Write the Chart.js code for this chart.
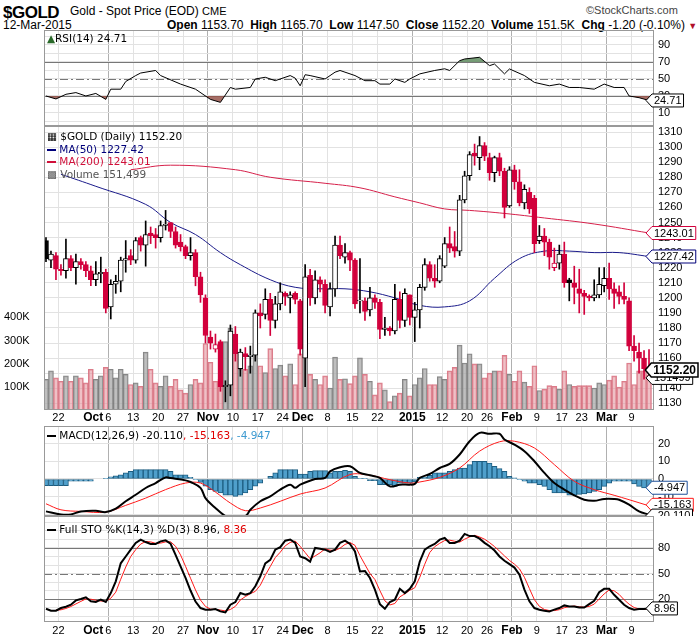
<!DOCTYPE html>
<html>
<head>
<meta charset="utf-8">
<script src="https://cdn.jsdelivr.net/npm/chart.js@4.4.1/dist/chart.umd.min.js"></script>
<style>
  body { margin: 0; background: #fff; width: 700px; height: 639px; overflow: hidden; position: relative;
         font-family: "Liberation Sans", Arial, sans-serif; }
  canvas { position: absolute; left: 0; }
  .t { position: absolute; white-space: nowrap; font-size: 11px; color: #000; line-height: 1.15; }
  .n { font-family: "Liberation Sans Narrow", "Liberation Sans", Arial, sans-serif; }
  .v { font-family: "DejaVu Sans", Verdana, sans-serif; font-size: 10.5px; }
  b { font-weight: bold; }
</style>
</head>
<body>
<div class="t n" style="left:3px;top:3px;font-size:17px;font-weight:bold;letter-spacing:-0.5px">$GOLD</div>
<div class="t n" style="left:70px;top:5px;font-size:12px">Gold - Spot Price (EOD) <span style="font-size:11px">CME</span></div>
<div class="t n" style="left:586px;top:4px;font-size:11px;color:#444">&copy;StockCharts.com</div>
<div class="t n" style="left:3px;top:19px;font-size:12px">12-Mar-2015</div>
<div class="t n" style="left:167px;top:19px;font-size:12px"><b>Open</b> 1153.70 &nbsp;<b>High</b> 1165.70 &nbsp;<b>Low</b> 1147.50 &nbsp;<b>Close</b> 1152.20 &nbsp;<b>Volume</b> 151.5K &nbsp;<b>Chg</b> -1.20 (-0.10%) <span style="color:#b0102a;font-size:9px">&#9660;</span></div>

<canvas id="rsi" width="700" height="96" style="top:30px"></canvas>
<canvas id="price" width="700" height="300" style="top:126px"></canvas>
<canvas id="macd" width="700" height="90" style="top:426px"></canvas>
<canvas id="sto" width="700" height="123" style="top:516px"></canvas>

<div class="t v" style="left:47px;top:32px"><span style="color:#2a6a2a">&#9650;</span>RSI(14) 24.71</div>
<div class="t v" style="left:47px;top:130px;line-height:12.5px">
  <div>&#9638; $GOLD (Daily) 1152.20</div>
  <div style="color:#00007a"><span style="display:inline-block;width:9px;height:2px;background:#00007a;vertical-align:middle"></span> MA(50) 1227.42</div>
  <div style="color:#d0103a"><span style="display:inline-block;width:9px;height:2px;background:#d0103a;vertical-align:middle"></span> MA(200) 1243.01</div>
  <div style="color:#555">&#9641; Volume 151,499</div>
</div>
<div class="t v" style="left:47px;top:429px"><span style="display:inline-block;width:9px;height:2px;background:#000;vertical-align:middle"></span> MACD(12,26,9) -20.110<span style="color:#e00000">, -15.163</span><span style="color:#3d9ad0">, -4.947</span></div>
<div class="t v" style="left:47px;top:523px"><span style="display:inline-block;width:9px;height:2px;background:#000;vertical-align:middle"></span> Full STO %K(14,3) %D(3) 8.96, <span style="color:#e00000">8.36</span></div>

<script>
// ---- data (bar index 0 = 17-Sep-2014, 121 = 12-Mar-2015) ----
const tickIdx    = [3, 13, 18, 23, 28, 33, 38, 43, 48, 52, 57, 62, 67, 74, 80, 85, 89, 94, 99, 104, 108, 113, 118];
const tickLabels = ['22', 'Oct 6', '13', '20', '27', 'Nov', '10', '17', '24', 'Dec', '8', '15', '22', '2015', '12', '20', '26', 'Feb', '9', '17', '23', 'Mar', '9'];

const opens = [1238,1225,1228,1219,1218,1226,1220,1224,1222,1218,1212,1216,1217,1194,1209,1211,1225,1228,1225,1240,
  1235,1243,1242,1240,1248,1250,1244,1237,1234,1228,1230,1214,1200,1174,1166,1171,1141,1142,1176,1153,
  1163,1161,1162,1190,1189,1199,1185,1196,1203,1200,1203,1198,1160,1215,1200,1212,1209,1194,1206,1235,
  1227,1230,1225,1198,1198,1192,1200,1197,1179,1180,1178,1199,1185,1202,1187,1192,1207,1222,1213,1211,
  1221,1236,1234,1231,1265,1281,1296,1293,1301,1293,1283,1293,1284,1261,1285,1277,1263,1270,1266,1238,
  1241,1237,1220,1223,1229,1212,1210,1206,1203,1201,1200,1202,1208,1213,1206,1204,1201,1198,1168,1164,
  1160,1153.7];
const highs = [1240,1231,1230,1222,1239,1228,1229,1226,1224,1221,1224,1227,1219,1212,1215,1227,1238,1232,1240,1241,
  1251,1247,1246,1251,1258,1250,1247,1242,1235,1240,1232,1217,1202,1178,1176,1172,1145,1182,1181,1166,
  1167,1168,1192,1196,1206,1203,1201,1210,1204,1204,1204,1199,1222,1219,1218,1214,1212,1210,1241,1241,
  1236,1231,1226,1226,1200,1207,1202,1199,1187,1181,1209,1204,1206,1202,1197,1209,1226,1224,1222,1228,
  1240,1247,1244,1268,1284,1297,1302,1307,1303,1296,1294,1296,1286,1287,1288,1285,1275,1273,1268,1248,
  1246,1239,1233,1235,1237,1213,1221,1219,1205,1202,1212,1220,1220,1223,1210,1208,1210,1200,1175,1170,
  1165,1165.7];
const lows = [1224,1220,1212,1215,1213,1218,1209,1219,1214,1208,1208,1210,1190,1186,1203,1204,1217,1222,1223,1231,
  1221,1236,1233,1237,1245,1240,1233,1231,1226,1225,1208,1197,1170,1166,1164,1138,1131,1135,1158,1148,
  1152,1150,1158,1180,1186,1175,1180,1192,1195,1190,1196,1162,1141,1195,1196,1204,1190,1188,1201,1226,
  1223,1218,1193,1190,1185,1188,1193,1173,1175,1175,1176,1180,1181,1182,1171,1180,1205,1211,1207,1210,
  1220,1230,1227,1228,1263,1278,1288,1285,1291,1278,1277,1281,1253,1260,1272,1261,1259,1256,1230,1236,
  1228,1219,1218,1219,1207,1198,1196,1190,1189,1198,1198,1200,1204,1199,1193,1196,1196,1165,1158,1150,
  1146,1147.5];
const closes = [1226,1229,1219,1218,1226,1220,1224,1222,1218,1212,1216,1217,1193,1209,1211,1225,1226,1225,1238,1235,
  1242,1241,1240,1248,1249,1244,1235,1234,1228,1230,1214,1202,1175,1170,1169,1141,1142,1178,1163,1164,
  1161,1162,1190,1188,1199,1185,1196,1204,1201,1202,1199,1166,1214,1200,1212,1209,1195,1206,1235,1228,
  1230,1225,1196,1198,1191,1200,1197,1179,1180,1178,1199,1185,1203,1187,1192,1207,1222,1213,1211,1226,
  1236,1233,1231,1265,1281,1295,1294,1301,1294,1283,1293,1284,1260,1285,1277,1263,1272,1259,1236,1241,
  1237,1227,1223,1229,1210,1210,1207,1203,1201,1200,1202,1209,1213,1206,1203,1201,1199,1168,1165,1160,
  1153,1152.2];
const volumes = [132,169,139,124,147,124,147,139,117,176,132,147,184,176,139,176,154,110,117,102,
  250,176,117,102,147,102,132,87,73,110,132,117,287,206,124,132,295,354,250,176,
  176,191,287,191,161,265,179,194,147,199,110,243,339,154,132,110,147,95,228,132,
  135,114,147,225,154,124,65,117,87,36,61,73,132,61,110,139,179,110,110,144,
  132,169,184,280,203,243,199,199,139,159,169,169,236,154,124,169,120,102,191,84,
  90,105,102,90,169,110,102,105,105,105,95,117,110,129,147,99,124,203,110,169,
  169,151.5];

const ma50Idx  = [3, 10, 20, 25, 30, 35, 39, 45, 50, 55, 60, 65, 70, 75, 80, 85, 90, 95, 100, 105, 110, 115, 121];
const ma50Val  = [1282,1274,1262,1250,1242,1230,1222,1212,1207,1206,1206,1204,1200,1195,1194,1198,1213,1226,1231,1231,1230,1230,1227.42];
const ma200Idx = [17, 25, 38, 45, 56, 63, 70, 75, 80, 85, 92, 100, 110, 121];
const ma200Val = [1285,1288,1285,1280,1276,1273,1267,1263,1259,1258,1256,1253,1249,1243.01];

const rsiIdx = [0,2,4,6,8,10,12,13,15,16,18,19,22,23,27,30,33,35,37,38,41,42,44,46,49,50,51,52,53,56,58,59,62,64,66,67,69,70,72,73,75,78,80,81,83,84,87,89,90,92,93,96,98,101,103,105,107,110,112,114,116,117,119,121];
const rsiVal = [30,26.5,32,34,30,33,26,38,38,47,54,57,60,54,44,38,26,22.5,40,38,40,50,52,48,54,51,42,55,54,50,58,60,54,48,48,44,44,50,46,50,56,60,62,60,71.5,73.5,75.5,65.7,67.6,56,61.8,54,46,42,44,40,40,38,44,40,40,30,28,24.71];

const macdIdx = [0,3,5,7,10,12,14,16,18,20,22,24,25,28,29,31,32,34,36,37,40,41,43,45,47,49,50,51,54,56,57,59,61,63,65,67,69,71,73,74,75,77,79,81,83,85,87,89,91,92,94,96,98,100,102,104,106,108,110,112,114,115,117,119,121];
const macdVal = [-18.3,-20,-20,-18.3,-17.9,-18.7,-16.8,-12.6,-8.9,-5.1,-2.3,0.9,0.5,-0.8,-1.7,-5,-10.8,-16.4,-21,-21.7,-21,-17.4,-12.6,-9.8,-6,-3.2,-5,-3.2,0,0.6,4.3,6.6,7.2,3.4,2.1,0.6,-4.2,-3.2,-3.2,-2.8,0.6,2.8,6.2,8.5,13.8,21.3,26,25.5,25.5,22.3,19.4,15.7,10,3.4,-2.3,-6,-9.2,-11.7,-12.3,-11.3,-11.3,-11.7,-14.5,-18.3,-20.11];
const sigIdx = [0,3,7,12,16,20,24,28,31,34,37,40,43,47,51,56,61,65,69,73,75,79,83,87,91,94,98,102,106,110,114,117,121];
const sigVal = [-14,-17.4,-18.3,-18.7,-14.9,-10.8,-6,-2.3,-2.3,-7.4,-13.6,-17.9,-16.4,-12.6,-8.5,-5.1,2.5,2.1,-0.4,-2.3,-1.7,0.9,6.2,15.7,21,21.3,17.5,8.1,-1.3,-6,-9.2,-11.7,-15.163];
const histVal = [-3.8,-3.8,-3.8,-3.8,-3.8,-1.3,-1.3,-1.3,-1.3,-1.3,0,0,0.2,1.2,1.8,2.4,3.5,4.3,5.3,5.3,
  5.3,5.3,5.3,5.3,5.3,4.3,2.4,2.4,2.4,0.9,-0.4,-1.9,-4,-6,-7,-7.9,-9.2,-9.2,-9.8,-9.2,
  -7.9,-6,-4,-2.3,0,1.5,3.4,5.3,5.3,5.3,5.3,2.8,2.8,4.3,4.7,4.7,4.7,3.4,4.3,4.3,
  4.9,4.3,1.5,0.2,0.2,-0.9,-0.9,-3.2,-3.2,-3.2,-4.2,-2.3,-2.3,-2.3,-1.7,0.9,0.9,2,3.4,3.4,
  3.4,4.3,5.3,6.2,6.2,8.1,10,10,10,9,7.2,5.8,4.3,1.5,0.6,-0.4,-1.3,-2.3,-2.3,-3.2,
  -4.2,-6,-7.9,-7.9,-7.9,-9.2,-9.2,-8.7,-8.5,-7.9,-7,-6,-4.2,-2.3,-1.3,-1.3,-1.3,-1.3,-2.8,-4.2,
  -5,-4.947];

const stoK = [8.6,6.3,6.3,9.4,11,13.3,18.4,20,22,17.3,16.5,19.2,16.5,27,40.8,62,70,78,86,89.8,
  87,84.7,84.7,87.8,89,85,72,58.4,45,30,17,9.4,7.5,7.5,8.2,5.5,4.3,13.3,16.5,27,
  25,27,35,46.7,62,66,78,81,88.6,90,86,70,68,64,80,79,78,75.3,78,86,
  88.6,84.7,76,52.5,53,44.7,31,14,8.6,16.5,19.2,32,27,32,40.8,64,78,82,84.7,89.8,
  91.8,86,86,88.6,96.5,94,94,91,86,82,77,70,65,61,57,48.6,31,17.3,9.4,7.5,
  6.3,5.5,7.5,9.4,12.5,11.3,11.3,10,10,14,18,28,32,32,25,19.2,13.3,9.4,7.5,8.2,
  8.2,8.96];

// ---- helpers ----
const RED = '#d2003c', FONT = '"Liberation Sans", Arial, sans-serif';
const pts = (xs, ys) => xs.map((x, k) => ({x: x, y: ys[k]}));
const byIndex = arr => arr.map((v, i) => ({x: i, y: v}));
const monthTicks = ['Oct 6', 'Nov', 'Dec', '2015', 'Feb', 'Mar'];

function xScale() {
  return {
    type: 'linear', min: -0.4, max: 122, offset: false,
    afterBuildTicks: s => { s.ticks = tickIdx.map(v => ({value: v - 0.5})); },
    ticks: {display: false},
    grid: {drawTicks: false, offset: false, color: c => monthTicks.includes(tickLabels[c.index]) ? '#b0b0b0' : '#e2e2e2'},
    border: {display: false},
    afterFit: s => { s.height = 0; }
  };
}
function yScale(min, max, gridVals) {
  return {
    position: 'right', min: min, max: max,
    afterBuildTicks: s => { s.ticks = gridVals.map(v => ({value: v})); },
    ticks: {display: false},
    grid: {drawTicks: false, color: '#e2e2e2'},
    border: {display: false},
    afterFit: s => { s.width = 46; }
  };
}

// frame, reference lines, axis labels, value boxes
const decor = {
  id: 'decor',
  beforeDatasetsDraw(chart, args, o) {
    const ctx = chart.ctx, a = chart.chartArea, y = chart.scales.y;
    (o.refs || []).forEach(r => {
      ctx.save();
      ctx.strokeStyle = '#777'; ctx.lineWidth = 1;
      if (r.dash) ctx.setLineDash([8, 3, 2, 3]);
      const py = Math.round(y.getPixelForValue(r.v)) + 0.5;
      ctx.beginPath(); ctx.moveTo(a.left, py); ctx.lineTo(a.right, py); ctx.stroke();
      ctx.restore();
    });
  },
  afterDraw(chart, args, o) {
    const ctx = chart.ctx, a = chart.chartArea, y = chart.scales.y;
    ctx.save();
    ctx.strokeStyle = '#999'; ctx.lineWidth = 1;
    ctx.strokeRect(a.left + 0.5, a.top + 0.5, a.right - a.left - 1, a.bottom - a.top - 1);
    ctx.font = '11px ' + FONT; ctx.fillStyle = '#000'; ctx.textAlign = 'left'; ctx.textBaseline = 'middle';
    (o.yLabels || []).forEach(v => ctx.fillText(String(v), a.right + 4, y.getPixelForValue(v)));
    (o.boxes || []).forEach(b => {
      ctx.font = (b.bold ? 'bold 12px ' : '11px ') + FONT;
      const w = ctx.measureText(b.text).width + 4, h = b.bold ? 14 : 13;
      const py = (b.axis ? chart.scales[b.axis] : y).getPixelForValue(b.v) + (b.dy || 0);
      const x0 = Math.min(a.right - 8, 699 - w - 7);
      ctx.beginPath();
      ctx.moveTo(x0, py); ctx.lineTo(x0 + 6, py - h / 2); ctx.lineTo(x0 + 6 + w, py - h / 2);
      ctx.lineTo(x0 + 6 + w, py + h / 2); ctx.lineTo(x0 + 6, py + h / 2); ctx.closePath();
      ctx.fillStyle = '#fff'; ctx.fill();
      ctx.strokeStyle = b.border; ctx.lineWidth = b.bold ? 1.5 : 1; ctx.stroke();
      ctx.fillStyle = b.color || '#000'; ctx.textBaseline = 'middle'; ctx.textAlign = 'left';
      ctx.fillText(b.text, x0 + 8, py + 0.5);
    });
    if (o.xLabels) {
      const x = chart.scales.x, ly = a.bottom + o.xLabels;
      ctx.textBaseline = 'middle'; ctx.fillStyle = '#000';
      tickIdx.forEach((t, k) => {
        const px = x.getPixelForValue(t - 0.5), lab = tickLabels[k];
        if (lab === 'Oct 6') {
          ctx.font = '11px ' + FONT; ctx.textAlign = 'center'; ctx.fillText('6', px, ly);
          ctx.font = 'bold 12px ' + FONT; ctx.textAlign = 'right'; ctx.fillText('Oct', px - 5, ly);
        } else {
          ctx.font = (monthTicks.includes(lab) ? 'bold 12px ' : '11px ') + FONT;
          ctx.textAlign = 'center'; ctx.fillText(lab, px, ly);
        }
      });
    }
    if (o.volLabels) {
      const yv = chart.scales.yv;
      ctx.font = '11px ' + FONT; ctx.textAlign = 'left'; ctx.textBaseline = 'middle'; ctx.fillStyle = '#000';
      [100, 200, 300, 400].forEach(v => ctx.fillText(v + 'K', 4, yv.getPixelForValue(v)));
    }
    ctx.restore();
  }
};

function panel(id, datasets, scales, decorOpts, padBottom) {
  return new Chart(document.getElementById(id), {
    type: 'bar',
    data: {datasets: datasets},
    options: {
      responsive: false, animation: false, devicePixelRatio: 1,
      layout: {padding: {left: 44, right: 0, top: 0, bottom: padBottom || 0}},
      plugins: {legend: {display: false}, tooltip: {enabled: false}, decor: decorOpts},
      scales: Object.assign({x: xScale()}, scales)
    },
    plugins: [decor]
  });
}

// ---- RSI ----
const rsiPts = pts(rsiIdx, rsiVal);
panel('rsi', [
  {type: 'line', data: rsiPts, borderColor: '#000', borderWidth: 1, pointRadius: 0,
   fill: {target: {value: 70}, above: 'rgba(95,140,95,0.85)', below: 'rgba(0,0,0,0)'}},
  {type: 'line', data: rsiPts, borderColor: 'rgba(0,0,0,0)', borderWidth: 0, pointRadius: 0,
   fill: {target: {value: 30}, above: 'rgba(0,0,0,0)', below: 'rgba(150,85,75,0.85)'}}
], {y: yScale(-5.3, 107.6, [0, 10, 20, 30, 40, 50, 60, 70, 80, 90, 100])},
  {refs: [{v: 70}, {v: 30}, {v: 50, dash: true}], yLabels: [90, 70, 50, 30, 10],
   boxes: [{v: 24.71, text: '24.71', border: '#000'}]});

// ---- price ----
const wickData = [], bodyData = [], wickCol = [], bodyFill = [], bodyLine = [], volCol = [], volLine = [];
closes.forEach((c, i) => {
  const down = i > 0 && c < closes[i - 1];
  const col = down ? RED : '#000';
  wickData.push({x: i, y: [lows[i], highs[i]]});
  bodyData.push({x: i, y: [opens[i], c === opens[i] ? c + 0.6 : c]});
  wickCol.push(col);
  bodyLine.push(col);
  bodyFill.push(c < opens[i] ? col : '#fff');
  volCol.push(down ? 'rgba(228,150,160,0.6)' : 'rgba(170,170,170,0.75)');
  volLine.push(down ? 'rgba(215,110,125,0.9)' : 'rgba(120,120,120,0.9)');
});
const priceTicks = [];
for (let p = 1130; p <= 1310; p += 10) priceTicks.push(p);
panel('price', [
  {data: wickData, backgroundColor: wickCol, barThickness: 1, grouped: false, order: 1},
  {data: bodyData, backgroundColor: bodyFill, borderColor: bodyLine, borderWidth: 1, borderSkipped: false,
   barThickness: 5, grouped: false, order: 0},
  {type: 'line', data: pts(ma50Idx, ma50Val), borderColor: '#1a1a8a', borderWidth: 1, pointRadius: 0, tension: 0.4, order: 2},
  {type: 'line', data: pts(ma200Idx, ma200Val), borderColor: '#d6204a', borderWidth: 1, pointRadius: 0, tension: 0.4, order: 2},
  {data: byIndex(volumes), yAxisID: 'yv', backgroundColor: volCol, borderColor: volLine, borderWidth: 1,
   borderSkipped: 'bottom', barThickness: 5, grouped: false, order: 3}
], {
  y: yScale(1125.6, 1314, priceTicks),
  yv: {display: false, min: 0, max: 1226}
}, {
  yLabels: priceTicks,
  boxes: [
    {v: 1243.01, text: '1243.01', border: RED},
    {v: 1227.42, text: '1227.42', border: '#00007a'},
    {v: 151.5, axis: 'yv', text: '151499', border: '#000', dy: 3},
    {v: 1152.2, text: '1152.20', border: '#000', bold: true}
  ],
  xLabels: 8, volLabels: true
}, 16);

// ---- MACD ----
panel('macd', [
  {type: 'line', data: pts(macdIdx, macdVal), borderColor: '#000', borderWidth: 2, pointRadius: 0, tension: 0.35, order: 0},
  {type: 'line', data: pts(sigIdx, sigVal), borderColor: '#ff1a1a', borderWidth: 1, pointRadius: 0, tension: 0.35, order: 1},
  {data: byIndex(histVal), backgroundColor: '#4f9fcb', borderColor: '#1d5d80', borderWidth: 1, borderSkipped: false,
   barThickness: 5, grouped: false, order: 2}
], {y: yScale(-20.9, 29.9, [-20, -10, 0, 10, 20])}, {
  yLabels: [20, 10, 0, -10],
  boxes: [
    {v: -4.947, text: '-4.947', border: '#1d4f9a'},
    {v: -15.163, text: '-15.163', border: '#ff1a1a', dy: -1},
    {v: -20.11, text: '-20.110', border: '#000', dy: 1}
  ]
});

// ---- Full STO ----
const stoD = stoK.map((v, i) => i < 2 ? null : {x: i, y: (stoK[i] + stoK[i - 1] + stoK[i - 2]) / 3}).filter(p => p);
panel('sto', [
  {type: 'line', data: byIndex(stoK), borderColor: '#000', borderWidth: 2, pointRadius: 0, order: 0},
  {type: 'line', data: stoD, borderColor: '#ff1a1a', borderWidth: 1, pointRadius: 0, order: 1}
], {y: yScale(-7, 117.6, [0, 10, 20, 30, 40, 50, 60, 70, 80, 90, 100, 110])},
  {refs: [{v: 80}, {v: 20}, {v: 50, dash: true}], yLabels: [80, 50, 20],
   boxes: [{v: 8.96, text: '8.96', border: '#000'}], xLabels: 9}, 17);
</script>
</body>
</html>
